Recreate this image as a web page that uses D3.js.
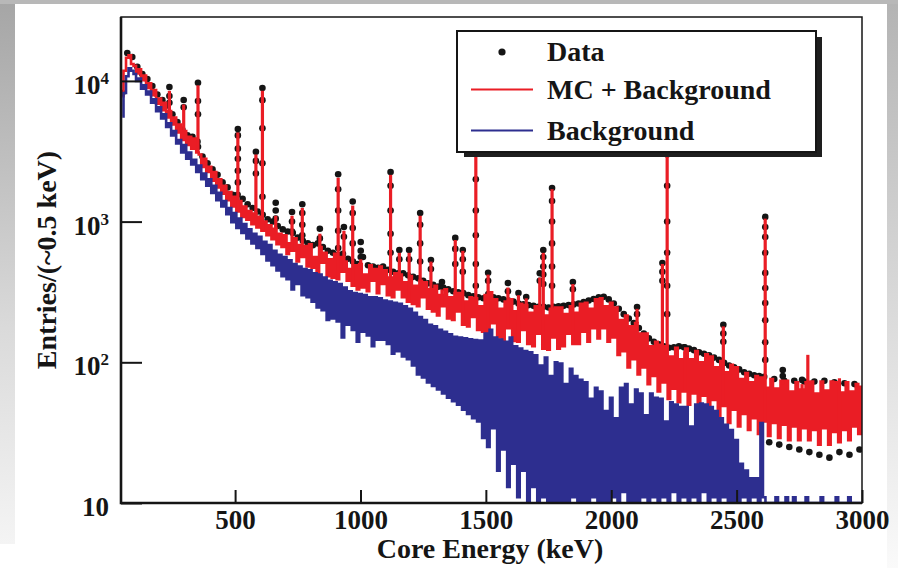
<!DOCTYPE html>
<html>
<head>
<meta charset="utf-8">
<script src="https://cdn.jsdelivr.net/npm/d3@7"></script>
<style>
html, body { margin: 0; padding: 0; background: #fff; }
svg { display: block; }
</style>
</head>
<body>
<svg id="chart" width="898" height="568"></svg>
<script>
// continuum bins, 10 keV wide, first bin centred on 50 keV (counts per ~0.5 keV)
var BIN_START = 50;
var BIN_WIDTH = 10;

var mcCounts = [
    7800, 11800, 14600, 15200, 13200,
    12800, 11300, 12100, 10100, 10900, 8900, 9600, 7900, 8600, 6900,
    7500, 6200, 7000, 5500, 6100, 4900, 5500, 4300, 4900, 3800,
    4400, 3500, 4000, 3300, 3900, 3100, 3000, 2450, 2800, 2250,
    2450, 1950, 2250, 1750, 2000, 1580, 1800, 1420, 1620, 1280,
    1500, 1180, 1400, 1080, 1280, 1030, 1190, 960, 1140, 910,
    1080, 860, 1000, 800, 940, 750, 890, 690, 820, 660,
    800, 590, 700, 620, 760, 520, 680, 560, 670, 480,
    690, 470, 560, 430, 660, 510, 600, 410, 540, 400,
    590, 390, 560, 440, 520, 380, 460, 350, 490, 330,
    500, 340, 420, 320, 490, 380, 460, 310, 480, 360,
    450, 300, 400, 290, 430, 330, 420, 290, 370, 270,
    410, 260, 350, 250, 380, 290, 370, 240, 330, 230,
    350, 215, 300, 250, 330, 205, 290, 200, 310, 230,
    310, 185, 270, 180, 290, 210, 285, 170, 250, 165,
    300, 160, 315, 190, 280, 150, 240, 145, 270, 175,
    280, 142, 230, 140, 260, 170, 255, 135, 225, 130,
    250, 160, 245, 125, 215, 123, 240, 150, 245, 125,
    245, 130, 220, 160, 250, 135, 225, 135, 260, 165,
    265, 140, 240, 175, 280, 148, 285, 175, 250, 140,
    265, 150, 245, 113, 200, 120, 215, 92, 180, 105,
    190, 82, 160, 92, 160, 70, 130, 80, 140, 62,
    133, 72, 130, 55, 110, 65, 127, 52, 105, 62,
    125, 50, 105, 60, 120, 47, 100, 58, 114, 45,
    110, 54, 92, 41, 102, 49, 85, 37, 96, 46,
    92, 35, 76, 43, 84, 33, 72, 40, 80, 31,
    78, 38, 66, 30, 76, 37, 65, 29, 74, 36,
    74, 28, 62, 35, 72, 28, 64, 34, 72, 28,
    73, 33, 60, 26, 73, 34, 63, 26, 73, 32,
    72, 27, 61, 33, 72, 28, 62, 35, 70, 31,
    67
];

var bgCounts = [
    5600, 8200, 10800, 12300, 11800,
    11200, 10000, 10400, 8800, 9300, 8000, 8400, 7000, 7400, 6100,
    6500, 5400, 5800, 4700, 5000, 4100, 4400, 3600, 3800, 3100,
    3500, 2800, 3100, 2550, 2750, 2250, 2500, 2000, 2200, 1800,
    2000, 1600, 1800, 1420, 1600, 1280, 1400, 1130, 1250, 990,
    1150, 900, 1050, 830, 960, 760, 880, 700, 820, 650,
    780, 590, 720, 530, 680, 490, 620, 450, 580, 410,
    560, 390, 530, 330, 500, 360, 480, 300, 460, 290,
    450, 270, 430, 245, 420, 235, 400, 200, 380, 205,
    370, 195, 360, 150, 340, 185, 320, 170, 310, 140,
    305, 165, 300, 155, 290, 130, 290, 145, 285, 145,
    275, 135, 270, 115, 265, 120, 260, 110, 250, 105,
    240, 95, 225, 82, 210, 78, 200, 72, 185, 68,
    180, 64, 170, 60, 165, 56, 158, 53, 152, 50,
    150, 46, 148, 43, 146, 40, 144, 38, 143, 29,
    160, 25, 170, 34, 150, 17, 145, 24, 140, 13,
    150, 19, 130, 11, 125, 17, 120, 8, 118, 13,
    112, 7, 95, 11, 108, 5, 80, 10, 100, 4,
    98, 9, 70, 3, 90, 11, 80, 2, 75, 10,
    72, 4, 55, 11, 66, 3, 62, 10, 45, 2,
    56, 11, 40, 4, 66, 12, 70, 3, 50, 10,
    64, 2, 60, 11, 42, 4, 60, 11, 56, 3,
    55, 11, 38, 4, 52, 12, 50, 3, 48, 11,
    48, 4, 35, 11, 50, 3, 51, 12, 50, 4,
    48, 11, 45, 3, 40, 11, 36, 4, 33, 10,
    28, 3, 19, 11, 17, 4, 15, 11, 15, 3,
    37, 11, 0, 0, 0, 0, 11, 0, 0, 0,
    11, 0, 0, 11, 0, 0, 0, 0, 11, 0,
    0, 0, 0, 0, 11, 0, 0, 0, 0, 0,
    11, 0, 0, 0, 0, 11, 0, 0, 0, 0,
    0
];

// measured points, every 20 keV from 50 keV
var DATA_START = 50;
var DATA_STEP = 20;
var dataCounts = [
    8200, 15800, 14800, 12600, 11200, 10300, 9200, 8000, 7300, 6700,
    5800, 5100, 4500, 4100, 4000, 3700, 2900, 2600, 2350, 2150,
    1900, 1750, 1550, 1550, 1450, 1330, 1250, 1180, 1120, 1040,
    1000, 930, 880, 850, 830, 770, 730, 700, 680, 700,
    660, 620, 600, 580, 590, 545, 520, 500, 560, 490,
    480, 470, 480, 455, 440, 430, 430, 415, 405, 395,
    380, 365, 355, 345, 340, 330, 320, 315, 310, 300,
    295, 290, 285, 305, 290, 285, 280, 275, 270, 262,
    258, 255, 252, 248, 248, 245, 248, 250, 252, 255,
    258, 262, 268, 275, 282, 290, 292, 280, 262, 240,
    220, 205, 190, 175, 160, 148, 140, 134, 130, 127,
    128, 130, 128, 125, 122, 118, 115, 112, 108, 104,
    99, 95, 92, 89, 85, 83, 81, 80, 79, 27,
    76, 26, 74, 25, 74, 24, 73, 23, 73, 22,
    74, 21, 72, 23, 71, 22, 70, 24
];

// gamma lines: energy (keV), MC top, data top, data points on the flanks
var peakEnergies = [238, 295, 352, 511, 583, 609, 662, 727, 768, 838,
    911, 934, 969, 1001, 1120, 1155, 1194, 1238, 1281, 1325,
    1378, 1408, 1460, 1509, 1588, 1630, 1661, 1715, 1729, 1764,
    1847, 2103, 2204, 2223, 2293, 2447, 2614, 2684, 2761, 2784, 2910];
var peakMc = [8500, 6800, 9300, 4300, 3000, 8500, 1100, 1100, 1250, 820,
    2050, 860, 1300, 540, 2150, 600, 600, 1100, 520, 330,
    740, 620, 9000, 420, 340, 300, 285, 400, 600, 1700,
    360, 240, 500, 7000, 120, 180, 1050, 70, 70, 113, 77];
var peakData = [9060, 7310, 9700, 4550, 3140, 8900, 1360, 1170, 1330, 890,
    2170, 916, 1390, 716, 2250, 628, 628, 1150, 533, 372,
    766, 628, 9500, 433, 366, 311, 291, 430, 628, 1730,
    372, 247, 508, 7500, 128, 185, 1080, 88, 75, null, null];
var peakFlanks = [[7800, 7000], [6500], [7200, 5800, 3400], [4100, 3300, 2800, 2300, 1900],
    [2700, 2200], [7300, 4600, 2600, 1500], [1200, 1050], [1000, 850], [1150, 950, 800], [760],
    [1700, 1200, 860, 650], [780], [1150, 900, 700], [620, 560], [1800, 1200, 820, 600],
    [540], [540], [950, 700, 520], [460], [],
    [640, 500], [540, 440], [6000, 3500, 2000, 1200, 800, 500, 350], [380], [320],
    [], [], [380], [560, 480, 420, 360], [1400, 1000, 700, 480, 350],
    [330], [220], [440, 380], [5000, 3000, 1800, 1000, 600, 350, 220], [],
    [160, 140], [915, 778, 600, 432, 337, 264, 199, 139, 104], [80], [], [], []];

var xMajorTicks = [500, 1000, 1500, 2000, 2500, 3000];
var yDecades = [10, 100, 1000, 10000];
var yDecadeExp = ['', '2', '3', '4'];

var legendLabels = ['Data', 'MC + Background', 'Background'];

(function () {
    'use strict';

    var LEFT = 121, RIGHT = 862, TOP = 17, BOTTOM = 503;
    var RED = '#ea1d25';
    var BLUE = '#2d2e8f';
    var INK = '#151515';
    var FONT = '"Liberation Serif", "Times New Roman", serif';

    var svg = d3.select('#chart');
    var defs = svg.append('defs');

    var x = d3.scaleLinear().domain([45, 3000]).range([LEFT, RIGHT]);
    var y = d3.scaleLog().domain([10, 28460]).range([BOTTOM, TOP]);
    var yv = function(v) { return y(Math.max(v, 10)); };

    var drawPage = function() {
        var gl = defs.append('linearGradient').attr('id', 'sideL')
            .attr('x1', 0).attr('y1', 0).attr('x2', 0).attr('y2', 1);
        gl.append('stop').attr('offset', '0%').attr('stop-color', '#a6a6a6');
        gl.append('stop').attr('offset', '60%').attr('stop-color', '#dadada');
        gl.append('stop').attr('offset', '100%').attr('stop-color', '#f4f4f4');
        var gr = defs.append('linearGradient').attr('id', 'sideR')
            .attr('x1', 0).attr('y1', 0).attr('x2', 0).attr('y2', 1);
        gr.append('stop').attr('offset', '0%').attr('stop-color', '#b4b4b4');
        gr.append('stop').attr('offset', '100%').attr('stop-color', '#fafafa');

        svg.append('rect').attr('width', 898).attr('height', 568).attr('fill', '#fff');
        svg.append('rect').attr('x', 0).attr('y', 0).attr('width', 898).attr('height', 4).attr('fill', '#b8b8b8');
        svg.append('rect').attr('x', 0).attr('y', 4).attr('width', 15).attr('height', 540).attr('fill', 'url(#sideL)');
        svg.append('rect').attr('x', 887).attr('y', 4).attr('width', 11).attr('height', 564).attr('fill', 'url(#sideR)');

        defs.append('clipPath').attr('id', 'plotArea')
            .append('rect')
            .attr('x', LEFT).attr('y', TOP - 2)
            .attr('width', RIGHT - LEFT).attr('height', BOTTOM - TOP + 2);
    };

    var stepLine = d3.line()
        .x(function(d) { return x(d[0]); })
        .y(function(d) { return yv(d[1]); })
        .curve(d3.curveStep);

    var drawContent = function() {
        var plot = svg.append('g').attr('clip-path', 'url(#plotArea)');

        var dataPts = dataCounts.map(function(v, i) { return [DATA_START + i * DATA_STEP, v]; });
        peakEnergies.forEach(function(e, i) {
            if (peakData[i] === null) return;
            dataPts.push([e, peakData[i]]);
            peakFlanks[i].forEach(function(v) { dataPts.push([e, v]); });
        });

        plot.append('g').selectAll('circle')
            .data(dataPts)
            .enter().append('circle')
            .attr('cx', function(d) { return x(d[0]); })
            .attr('cy', function(d) { return yv(d[1]); })
            .attr('r', 3.3)
            .attr('fill', INK);

        var mcPts = mcCounts.map(function(v, i) { return [BIN_START + i * BIN_WIDTH, v]; });
        plot.append('path')
            .attr('d', stepLine(mcPts))
            .attr('fill', 'none')
            .attr('stroke', RED)
            .attr('stroke-width', 2.6);

        plot.append('g').selectAll('line')
            .data(peakEnergies)
            .enter().append('line')
            .attr('x1', function(e) { return x(e); })
            .attr('x2', function(e) { return x(e); })
            .attr('y1', function(e) { return yv(mcCounts[Math.round((e - BIN_START) / BIN_WIDTH)]); })
            .attr('y2', function(e, i) { return yv(peakMc[i]); })
            .attr('stroke', RED)
            .attr('stroke-width', 3.2);

        var bgPts = bgCounts.map(function(v, i) { return [BIN_START + i * BIN_WIDTH, v]; });
        plot.append('path')
            .attr('d', stepLine(bgPts))
            .attr('fill', 'none')
            .attr('stroke', BLUE)
            .attr('stroke-width', 2.6);
    };

    var drawAxes = function() {
        var minorX = d3.range(100, 3001, 100).filter(function(v) { return v % 500 !== 0; });
        var gx = svg.append('g').attr('transform', 'translate(0,' + BOTTOM + ')');
        gx.call(d3.axisBottom(x).tickValues(minorX).tickSize(-7).tickFormat(''));
        gx.call(d3.axisBottom(x).tickValues(xMajorTicks).tickSize(-13).tickPadding(7).tickFormat(d3.format('d')));
        gx.selectAll('.domain').remove();
        gx.selectAll('line').attr('stroke', INK).attr('stroke-width', 2);
        gx.selectAll('text')
            .style('font-family', FONT)
            .style('font-size', '27px')
            .style('font-weight', 'bold')
            .attr('fill', INK);

        var minorY = y.ticks().filter(function(v) { return yDecades.indexOf(v) < 0; });
        var gy = svg.append('g').attr('transform', 'translate(' + LEFT + ',0)');
        gy.call(d3.axisRight(y).tickValues(minorY).tickSize(11).tickFormat(''));
        gy.call(d3.axisRight(y).tickValues(yDecades).tickSize(21).tickFormat(''));
        gy.selectAll('.domain').remove();
        gy.selectAll('line').attr('stroke', INK).attr('stroke-width', 2);

        var labels = svg.append('g')
            .style('font-family', FONT)
            .style('font-weight', 'bold')
            .attr('fill', INK)
            .attr('text-anchor', 'end');
        yDecades.forEach(function(v, i) {
            var t = labels.append('text')
                .attr('x', 109)
                .attr('y', y(v) + 13)
                .style('font-size', '27px');
            t.append('tspan').text('10');
            if (yDecadeExp[i]) {
                t.append('tspan')
                    .attr('dy', -10)
                    .style('font-size', '17px')
                    .text(yDecadeExp[i]);
            }
        });

        // frame
        svg.append('rect')
            .attr('x', LEFT).attr('y', TOP)
            .attr('width', RIGHT - LEFT).attr('height', BOTTOM - TOP)
            .attr('fill', 'none')
            .attr('stroke', INK)
            .attr('stroke-width', 1.5);
        svg.append('path')
            .attr('d', 'M' + LEFT + ',' + TOP + 'V' + BOTTOM + 'H' + RIGHT)
            .attr('fill', 'none')
            .attr('stroke', INK)
            .attr('stroke-width', 2.6);

        svg.append('text')
            .attr('x', 490)
            .attr('y', 558)
            .attr('text-anchor', 'middle')
            .style('font-family', FONT)
            .style('font-size', '28px')
            .style('font-weight', 'bold')
            .attr('fill', INK)
            .text('Core Energy (keV)');

        svg.append('text')
            .attr('transform', 'translate(56,260) rotate(-90)')
            .attr('text-anchor', 'middle')
            .style('font-family', FONT)
            .style('font-size', '28px')
            .style('font-weight', 'bold')
            .attr('fill', INK)
            .text('Entries/(~0.5 keV)');
    };

    var drawLegend = function() {
        var g = svg.append('g');
        g.append('rect')
            .attr('x', 464).attr('y', 37).attr('width', 358).attr('height', 120)
            .attr('fill', '#1e1e1e');
        g.append('rect')
            .attr('x', 457).attr('y', 31).attr('width', 359).attr('height', 121)
            .attr('fill', '#fff')
            .attr('stroke', INK)
            .attr('stroke-width', 2);

        var rowY = [52, 89.5, 130.5];
        g.append('circle').attr('cx', 502).attr('cy', rowY[0]).attr('r', 3.6).attr('fill', INK);
        g.append('line')
            .attr('x1', 471).attr('x2', 533).attr('y1', rowY[1]).attr('y2', rowY[1])
            .attr('stroke', RED).attr('stroke-width', 2.2);
        g.append('line')
            .attr('x1', 471).attr('x2', 533).attr('y1', rowY[2]).attr('y2', rowY[2])
            .attr('stroke', BLUE).attr('stroke-width', 2.2);

        g.selectAll('text.entry')
            .data(legendLabels)
            .enter().append('text')
            .attr('class', 'entry')
            .attr('x', 547)
            .attr('y', function(d, i) { return rowY[i] + 9; })
            .style('font-family', FONT)
            .style('font-size', '28px')
            .style('font-weight', 'bold')
            .attr('fill', INK)
            .text(function(d) { return d; });
    };

    drawPage();
    drawContent();
    drawAxes();
    drawLegend();
})();
</script>
</body>
</html>
